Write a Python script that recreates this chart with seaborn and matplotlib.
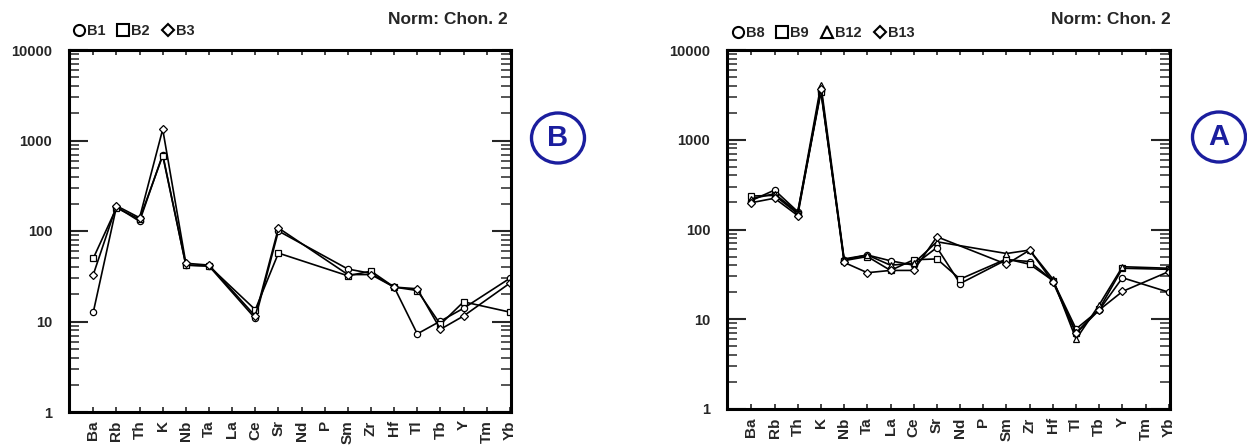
#!/usr/bin/env python3
"""
Chondrite-normalised spider diagrams for two sample groups (B and A),
drawn side by side on log axes.
"""

import numpy as np
import pandas as pd
import seaborn as sns
import matplotlib.pyplot as plt
from matplotlib.lines import Line2D
from matplotlib.patches import Ellipse
from matplotlib.ticker import LogLocator, NullFormatter

nan = np.nan

elements = ["Ba", "Rb", "Th", "K", "Nb", "Ta", "La", "Ce", "Sr", "Nd",
            "P", "Sm", "Zr", "Hf", "Tl", "Tb", "Y", "Tm", "Yb"]

# group B (left panel)
b1 = [12.7, 185, 128, 700, 42, 41, nan, 10.8, 100, nan, nan, 38, 34, 24, 7.3, 10.1, 14, nan, 30]
b2 = [50, 180, 135, 680, 42, 41, nan, 13.5, 57, nan, nan, 32, 36, 24, 22, 9.3, 16.5, nan, 12.7]
b3 = [33, 190, 140, 1330, 44, 42, nan, 11.5, 108, nan, nan, 33, 33, 24, 23, 8.2, 11.5, nan, 26.5]

# group A (right panel)
b8 = [210, 275, 158, 3500, 46, 52, 44.8, 40, 63, 25, nan, 46, 44, 27, 7.8, 12.7, 29, nan, 20]
b9 = [236, 240, 150, 3400, 45, 50, 35, 46, 47, 28, nan, 47, 41, 27, 7.0, 13, 37, nan, 36]
b12 = [220, 250, 155, 4100, 47, 52, 40, 42, 73, nan, nan, 54, 59, 28, 6.0, 14.5, 38.5, nan, 37]
b13 = [199, 223, 143, 3700, 43, 33, 35, 35, 83, nan, nan, 41, 59, 26, 7.0, 12.7, 20.4, nan, 34]

left_series = {"B1": b1, "B2": b2, "B3": b3}
right_series = {"B8": b8, "B9": b9, "B12": b12, "B13": b13}

marker_map = {"B1": "o", "B2": "s", "B3": "D",
              "B8": "o", "B9": "s", "B12": "^", "B13": "D"}

FONT = "Liberation Sans"
NAVY = "#1b1e9e"


def long_table(series):
    rows = []
    for name, vals in series.items():
        for i, v in enumerate(vals):
            rows.append({"sample": name, "x": i, "value": v})
    df = pd.DataFrame(rows)
    return df.dropna()


def draw_panel(fig, ax, series, legend_xy, norm_xy, letter, letter_xy):
    df = long_table(series)
    markers = {k: marker_map[k] for k in series}
    sns.lineplot(data=df, x="x", y="value", style="sample", markers=markers,
                 dashes=False, color="black", linewidth=1.2, markersize=4.5,
                 markerfacecolor="white", markeredgecolor="black",
                 markeredgewidth=0.9, errorbar=None, legend=False, ax=ax,
                 sort=True)

    ax.set_yscale("log")
    ax.set_ylim(1, 10000)
    ax.set_xlim(-1.05, len(elements) - 0.95)

    ax.set_yticks([1, 10, 100, 1000, 10000])
    ax.set_yticklabels(["1", "10", "100", "1000", "10000"],
                       fontfamily=FONT, fontweight="bold", fontsize=10.5)
    ax.yaxis.set_minor_locator(LogLocator(base=10, subs=np.arange(2, 10)))
    ax.yaxis.set_minor_formatter(NullFormatter())

    ax.set_xticks(range(len(elements)))
    ax.set_xticklabels(elements, rotation=90, fontfamily=FONT,
                       fontweight="bold", fontsize=11)

    ax.tick_params(axis="y", which="major", direction="in", length=13.5,
                   width=1.5, left=True, right=True, pad=12)
    ax.tick_params(axis="y", which="minor", direction="in", length=7,
                   width=1.1, left=True, right=True)
    ax.tick_params(axis="x", which="major", direction="in", length=3.8,
                   width=1.2, top=True, bottom=True, pad=6)
    ax.tick_params(axis="x", which="minor", bottom=False, top=False)

    for sp in ax.spines.values():
        sp.set_linewidth(2.2)
        sp.set_color("black")
    ax.set_xlabel("")
    ax.set_ylabel("")
    ax.grid(False)
    ax.set_facecolor("white")

    handles = [Line2D([], [], marker=marker_map[k], linestyle="none",
                      markersize=8 if marker_map[k] != "D" else 6.5,
                      markerfacecolor="white", markeredgecolor="black",
                      markeredgewidth=1.5) for k in series]
    ax.legend(handles, list(series.keys()), loc="center left",
              bbox_to_anchor=legend_xy, bbox_transform=fig.transFigure,
              ncol=len(series), frameon=False, handlelength=0.9,
              handletextpad=0.1, columnspacing=0.8, borderpad=0,
              borderaxespad=0,
              prop={"family": FONT, "weight": "bold", "size": 10.5})

    fig.text(norm_xy[0], norm_xy[1], "Norm: Chon. 2", ha="right", va="center",
             fontfamily=FONT, fontweight="bold", fontsize=12.5)

    fig.patches.append(Ellipse(letter_xy, 53 / 1247, 50 / 445,
                               transform=fig.transFigure, fill=False,
                               edgecolor=NAVY, linewidth=2.4))
    fig.text(letter_xy[0], letter_xy[1], letter, ha="center", va="center",
             color=NAVY, fontfamily=FONT, fontweight="bold", fontsize=21)


def main():
    sns.set_style("white")
    plt.rcParams["font.family"] = [FONT, "DejaVu Sans"]

    W, H = 1247, 445
    fig = plt.figure(figsize=(W / 100, H / 100), dpi=100)
    fig.patch.set_facecolor("white")

    ax_l = fig.add_axes([69 / W, (H - 412) / H, 442 / W, 362 / H])
    ax_r = fig.add_axes([727 / W, (H - 409) / H, 443 / W, 359 / H])

    draw_panel(fig, ax_l, left_series, (72 / W, 1 - 31 / H),
               (508 / W, 1 - 20 / H), "B", (558 / W, 1 - 138 / H))
    draw_panel(fig, ax_r, right_series, (731 / W, 1 - 33 / H),
               (1171 / W, 1 - 20 / H), "A", (1219 / W, 1 - 137 / H))

    fig.savefig("out.png", dpi=100)
    plt.close(fig)


if __name__ == "__main__":
    main()
